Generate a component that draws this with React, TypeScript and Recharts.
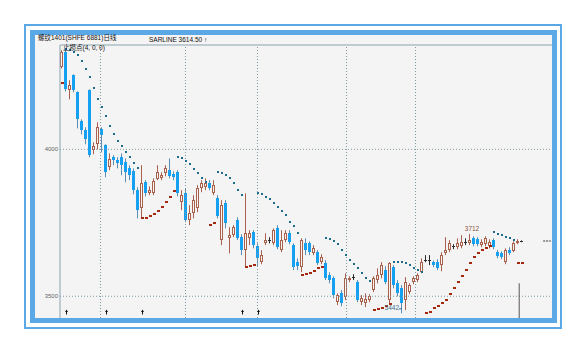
import { ComposedChart, Bar, Line, XAxis, YAxis, ReferenceLine, ReferenceDot } from 'recharts'

// daily OHLC, one entry per trading day
const opens = [
  4279, 4330, 4201, 4252, 4194, 4095, 4065, 4201, 3997, 4017,
  4068, 4014, 3939, 3973, 3963, 3973, 3956, 3935, 3925, 3861,
  3799, 3888, 3850, 3850, 3898, 3901, 3918, 3929, 3915, 3922,
  3820, 3850, 3759, 3782, 3799, 3867, 3871, 3884, 3850, 3833,
  3691, 3816, 3697, 3708, 3759, 3701, 3657, 3697, 3718, 3670,
  3616, 3680, 3690, 3680, 3731, 3657, 3691, 3714, 3674, 3616,
  3599, 3680, 3680, 3646, 3650, 3616, 3612, 3572, 3561, 3480,
  3510, 3497, 3555, 3565, 3548, 3480, 3476, 3487, 3521, 3555,
  3572, 3589, 3487, 3599, 3544, 3527, 3487, 3514, 3548, 3555,
  3582, 3622, 3622, 3616, 3616, 3606, 3646, 3657, 3670, 3667,
  3670, 3684, 3680, 3697, 3694, 3674, 3677, 3670, 3691, 3650,
  3646, 3616, 3657, 3653, 3680, 3687,
]
const highs = [
  4337, 4337, 4235, 4255, 4197, 4102, 4075, 4204, 4024, 4092,
  4075, 4017, 3986, 3980, 3973, 3986, 3969, 3946, 3935, 3871,
  3946, 3895, 3874, 3901, 3946, 3922, 3946, 3969, 3925, 3929,
  3861, 3867, 3810, 3844, 3878, 3895, 3901, 3895, 3895, 3844,
  3827, 3827, 3735, 3742, 3769, 3711, 3850, 3725, 3725, 3680,
  3657, 3714, 3701, 3731, 3742, 3725, 3725, 3725, 3680, 3629,
  3697, 3697, 3687, 3674, 3657, 3643, 3623, 3582, 3568, 3510,
  3521, 3578, 3568, 3575, 3555, 3504, 3510, 3507, 3568, 3595,
  3616, 3602, 3616, 3606, 3555, 3538, 3565, 3544, 3568, 3578,
  3629, 3640, 3640, 3622, 3626, 3650, 3701, 3691, 3677, 3697,
  3708, 3697, 3712, 3704, 3701, 3694, 3704, 3694, 3697, 3657,
  3653, 3663, 3667, 3687, 3694, 3690,
]
const lows = [
  4275, 4197, 4170, 4194, 4071, 4051, 4017, 3973, 3983, 4000,
  3990, 3905, 3929, 3946, 3935, 3912, 3888, 3895, 3847, 3765,
  3765, 3840, 3844, 3844, 3895, 3895, 3908, 3901, 3895, 3840,
  3793, 3752, 3742, 3765, 3786, 3854, 3861, 3861, 3844, 3765,
  3674, 3731, 3646, 3701, 3691, 3640, 3599, 3674, 3663, 3602,
  3609, 3674, 3680, 3674, 3660, 3650, 3684, 3677, 3589, 3589,
  3582, 3640, 3640, 3640, 3606, 3609, 3555, 3544, 3493, 3470,
  3466, 3487, 3548, 3555, 3480, 3470, 3463, 3480, 3514, 3544,
  3561, 3541, 3476, 3527, 3500, 3442, 3453, 3507, 3541, 3548,
  3578, 3616, 3606, 3599, 3589, 3585, 3640, 3650, 3660, 3660,
  3663, 3674, 3674, 3670, 3670, 3667, 3670, 3663, 3660, 3629,
  3626, 3609, 3640, 3650, 3677, 3684,
]
const closes = [
  4330, 4204, 4218, 4201, 4102, 4065, 4034, 3980, 4010, 4075,
  4048, 3922, 3966, 3963, 3952, 3946, 3922, 3912, 3861, 3793,
  3884, 3850, 3861, 3891, 3922, 3912, 3935, 3908, 3905, 3850,
  3844, 3759, 3782, 3827, 3867, 3884, 3884, 3867, 3878, 3772,
  3810, 3748, 3708, 3735, 3697, 3657, 3714, 3714, 3674, 3629,
  3640, 3691, 3691, 3725, 3667, 3691, 3714, 3684, 3599, 3602,
  3691, 3657, 3650, 3663, 3612, 3633, 3561, 3555, 3504, 3504,
  3476, 3561, 3561, 3564, 3487, 3493, 3490, 3500, 3561, 3572,
  3606, 3548, 3612, 3538, 3510, 3476, 3548, 3538, 3561, 3572,
  3616, 3623, 3623, 3606, 3595, 3640, 3657, 3680, 3671, 3680,
  3684, 3685, 3691, 3677, 3677, 3684, 3697, 3684, 3667, 3636,
  3633, 3657, 3646, 3680, 3687, 3688,
]

// SAR stop points: above price (falling) and below price (rising)
const sarAbove = [
  null, 4340, 4337, 4330, 4320, 4299, 4272, 4245, 4207, 4170,
  4143, 4112, 4078, 4051, 4030, 4010, 3990, 3973, 3952, 3935,
  null, null, null, null, null, null, null, null, null, 3973,
  3969, 3959, 3949, 3932, 3918, 3901, 3888, null, null, 3922,
  3918, 3911, 3901, 3884, 3861, 3844, null, null, null, 3850,
  3847, 3837, 3830, 3816, 3803, 3789, 3776, 3752, 3738, 3714,
  null, null, null, null, null, null, 3697, 3694, 3687, 3677,
  3657, 3640, 3623, 3609, 3595, 3578, 3561, 3551, null, null,
  null, null, null, 3616, 3616, 3616, 3612, 3606, 3595, 3589,
  3582, null, null, null, null, null, null, null, null, null,
  null, null, null, null, null, null, null, null, 3718, 3711,
  3708, 3701, 3697, 3691, null, null,
]
const sarBelow = [
  4224, null, null, null, null, null, null, null, null, null,
  null, null, null, null, null, null, null, null, null, null,
  3765, 3765, 3772, 3779, 3789, 3803, 3820, 3837, 3857, null,
  null, null, null, null, null, null, null, 3742, 3748, null,
  null, null, null, null, null, null, 3599, 3602, 3606, null,
  null, null, null, null, null, null, null, null, null, null,
  3572, 3575, 3578, 3585, 3595, 3599, null, null, null, null,
  null, null, null, null, null, null, null, null, 3453, 3456,
  3459, 3466, 3473, null, null, null, null, null, null, null,
  null, 3442, 3446, 3459, 3466, 3476, 3487, 3507, 3527, 3548,
  3568, 3589, 3612, 3633, 3646, 3657, 3663, 3670, null, null,
  null, null, null, null, 3614.5, 3614.5,
]

const signalDays = [1, 11, 20, 45, 49]
const signalLevel = 3446
const monthBreaks = [9.625, 30.875, 48.875, 71.125, 88.375]
const yTicks = [3500, 4000]
const highMark = { day: 102, value: 3712 }
const lowMark = { day: 85, value: 3442 }
const cursorDay = 114.3

const BLUE_FRAME = '#5aa9e6'
const UP = '#a8614c'
const DOWN = '#16a0f2'
const DOWN_WICK = '#5a8cb4'
const DOJI = '#2a2a2a'
const GRID = '#7d9aa5'

const data = opens.map((o, i) => ({
  i,
  open: o,
  high: highs[i],
  low: lows[i],
  close: closes[i],
  sarAbove: sarAbove[i],
  sarBelow: sarBelow[i],
  signal: signalDays.includes(i) ? signalLevel : null,
}))

function Candle(props: any) {
  const { x, y, width, height, payload } = props
  if (!payload || payload.high == null) return <g />
  const { open, close, high, low } = payload
  const top = Math.min(y, y + height)
  const k = Math.abs(height) / (high - low || 1)
  const py = (v: number) => top + (high - v) * k
  const c = Math.floor(x + width / 2)
  const wx = c + 0.5
  const bTop = py(Math.max(open, close))
  const bBot = py(Math.min(open, close))
  const yH = py(high)
  const yL = py(low)

  if (Math.abs(close - open) < 2) {
    const m = Math.round((bTop + bBot) / 2) + 0.5
    return (
      <g>
        <line x1={wx} x2={wx} y1={yH} y2={yL} stroke={DOJI} />
        <line x1={c - 1} x2={c + 2} y1={m} y2={m} stroke={DOJI} />
      </g>
    )
  }
  if (close > open) {
    const t = Math.round(bTop) + 0.5
    const b = Math.max(Math.round(bBot) - 0.5, t + 1)
    return (
      <g>
        <line x1={wx} x2={wx} y1={yH} y2={t} stroke={UP} />
        <line x1={wx} x2={wx} y1={b} y2={yL} stroke={UP} />
        <rect x={c - 0.5} y={t} width={2} height={b - t} fill="#f8f4f2" stroke={UP} />
      </g>
    )
  }
  const t = Math.round(bTop)
  const h = Math.max(Math.round(bBot) - t, 1)
  return (
    <g>
      <line x1={wx} x2={wx} y1={yH} y2={yL} stroke={DOWN_WICK} />
      <rect x={c - 1} y={t} width={3} height={h} fill={DOWN} />
    </g>
  )
}

function sarDot(p: any, color: string, w: number) {
  if (p.cy == null || p.value == null) return <g key={p.key} />
  const cx = Math.round(p.cx)
  const cy = Math.round(p.cy)
  return <rect key={p.key} x={cx - 1} y={cy - 1} width={w} height={2} fill={color} />
}

function signalArrow(p: any) {
  if (p.cy == null || p.value == null) return <g key={p.key} />
  const cx = Math.round(p.cx) + 0.5
  const cy = Math.round(p.cy)
  return (
    <g key={p.key}>
      <path d={`M${cx - 1.5},${cy} L${cx},${cy - 2.5} L${cx + 1.5},${cy} Z`} fill="#111" />
      <line x1={cx} x2={cx} y1={cy} y2={cy + 2.5} stroke="#111" />
    </g>
  )
}

export default function App() {
  return (
    <div style={{ position: 'absolute', left: 0, top: 0, width: 586, height: 353, background: '#fff', overflow: 'hidden' }}>
      <div style={{ position: 'absolute', left: 24, top: 24, width: 538, height: 305, border: `2px solid ${BLUE_FRAME}`, boxSizing: 'border-box' }} />
      <div style={{ position: 'absolute', left: 30, top: 30, width: 527, height: 293, border: `5px solid ${BLUE_FRAME}`, boxSizing: 'border-box', background: '#f4f4f4' }} />
      <div style={{ position: 'absolute', left: 0, top: 0 }}>
        <ComposedChart width={586} height={353} data={data} margin={{ top: 45, right: 34, bottom: 35, left: 35 }}>
          <XAxis type="number" dataKey="i" domain={[-0.5, 122.5]} hide allowDataOverflow />
          <YAxis
            domain={[3426, 4355]}
            ticks={yTicks}
            width={25}
            allowDataOverflow
            axisLine={{ stroke: '#8aa3ad' }}
            tickLine={false}
            tickSize={0}
            tickMargin={2}
            tick={{ fontSize: 6, fill: '#666', fontFamily: 'Liberation Sans, Arial, sans-serif' }}
          />
          <ReferenceLine y={4355} stroke="#8aa3ad" />
          {yTicks.map((t) => (
            <ReferenceLine key={t} y={t} stroke={GRID} strokeDasharray="1 2" />
          ))}
          {monthBreaks.map((m) => (
            <ReferenceLine key={m} x={m} stroke={GRID} strokeDasharray="1 2" />
          ))}
          <Bar
            dataKey={(d: any) => [d.low, d.high]}
            barSize={3}
            shape={Candle}
            isAnimationActive={false}
          />
          <Line
            dataKey="sarAbove"
            stroke="none"
            isAnimationActive={false}
            activeDot={false}
            dot={(p: any) => sarDot(p, '#1d6c8a', 2)}
          />
          <Line
            dataKey="sarBelow"
            stroke="none"
            isAnimationActive={false}
            activeDot={false}
            dot={(p: any) => sarDot(p, '#a4290e', 3)}
          />
          <Line
            dataKey="signal"
            stroke="none"
            isAnimationActive={false}
            activeDot={false}
            dot={signalArrow}
          />
          <ReferenceLine
            segment={[{ x: cursorDay, y: 3544 }, { x: cursorDay, y: 3426 }]}
            stroke="#555"
          />
          <ReferenceLine
            segment={[{ x: 120.3, y: closes[closes.length - 1] }, { x: 122.2, y: closes[closes.length - 1] }]}
            stroke="#333"
            strokeDasharray="2 1"
          />
          <ReferenceDot
            x={highMark.day}
            y={highMark.value}
            r={0}
            shape={(p: any) => (
              <text x={p.cx + 2} y={p.cy - 4.5} textAnchor="middle" dominantBaseline="middle" fontSize={6.5} fill="#8a5545" fontFamily="Liberation Sans, Arial, sans-serif">
                {highMark.value}
              </text>
            )}
          />
          <ReferenceDot
            x={lowMark.day}
            y={lowMark.value}
            r={0}
            shape={(p: any) => (
              <g>
                <text x={p.cx - 3} y={p.cy - 5} textAnchor="end" dominantBaseline="middle" fontSize={6.5} fill="#3d6f8f" fontFamily="Liberation Sans, Arial, sans-serif">
                  {lowMark.value}
                </text>
                <line x1={p.cx - 3} x2={p.cx} y1={p.cy - 4.5} y2={p.cy - 4.5} stroke="#3d6f8f" />
              </g>
            )}
          />
        </ComposedChart>
      </div>
      <svg width={586} height={353} style={{ position: 'absolute', left: 0, top: 0, pointerEvents: 'none' }}>
        <g fontFamily="Liberation Sans, 'Noto Sans CJK SC', sans-serif" fill="#111" dominantBaseline="middle">
          <text x={38} y={38.5} fontSize={6.5}>螺纹1401(SHFE 6881)日线</text>
          <text x={149} y={40.5} fontSize={6.5}>SARLINE  3614.50 ↑</text>
          <text x={63} y={48} fontSize={6.5}>止损点(4, 0, 0)</text>
        </g>
      </svg>
    </div>
  )
}
